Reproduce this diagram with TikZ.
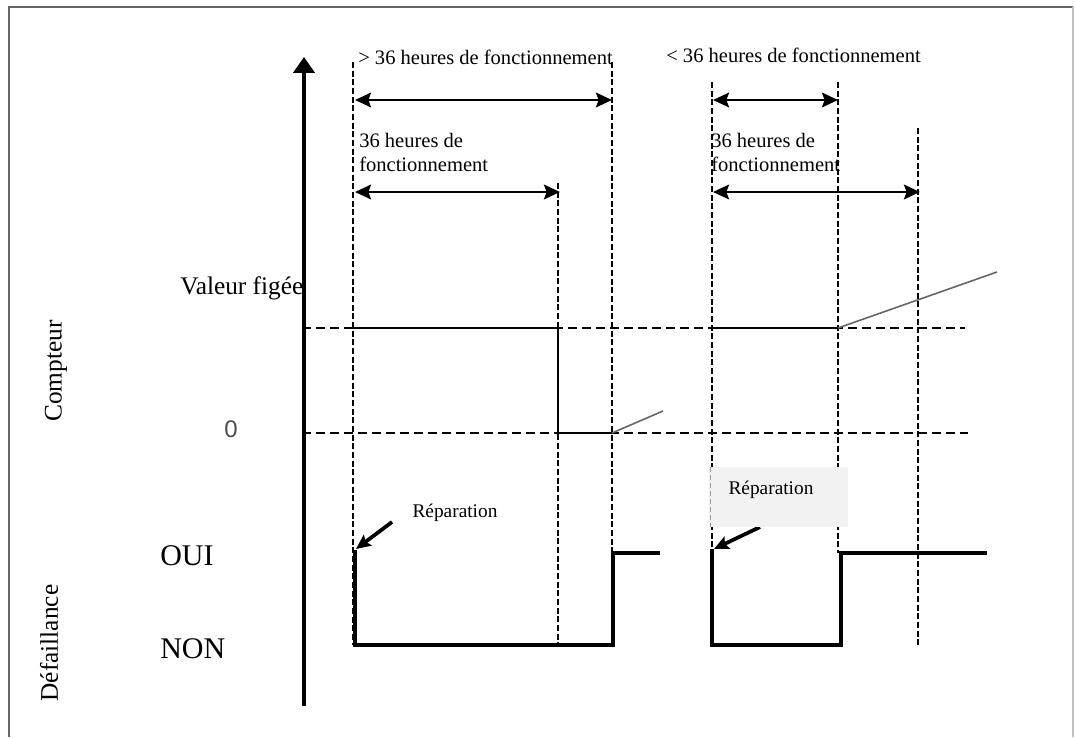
\documentclass[tikz,border=0pt]{standalone}
\usepackage{fontspec}
\setmainfont{Liberation Serif}
\newfontfamily\arialfont{Liberation Sans}
\usetikzlibrary{arrows.meta}
\begin{document}
\begin{tikzpicture}[x=0.75pt,y=-0.75pt,
  vdash/.style={line width=2pt, dash pattern=on 4.5pt off 2pt},
  hdash/.style={line width=2.1pt, dash pattern=on 7pt off 3.5pt},
  sig/.style={line width=3.6pt, line join=miter},
  cnt/.style={line width=1.1pt},
  slope/.style={line width=1.2pt, black!60},
  dimarrow/.style={line width=2pt,{Stealth[length=12pt,width=11pt,inset=2pt]}-{Stealth[length=12pt,width=11pt,inset=2pt]}},
  reparrow/.style={line width=2.8pt,-{Stealth[length=11pt,width=10pt,inset=2pt]}},
  lbl/.style={inner sep=0pt, font=\fontsize{15.4}{18}\selectfont, align=left},
  biglbl/.style={inner sep=0pt, font=\fontsize{22.5}{26}\selectfont},
  sidelbl/.style={inner sep=0pt, font=\fontsize{19}{22}\selectfont},
  replbl/.style={inner sep=0pt, font=\fontsize{14.5}{17}\selectfont},
]
\useasboundingbox (0,0) rectangle (1075,738);
% frame
\draw[black!60, line width=1.5pt] (9,737) -- (9,7) -- (1073,7);
\draw[black!25, line width=0.8pt] (1073,7) -- (1073,737);

% axis
\coordinate (axb) at (304,706);
\coordinate (axt) at (304,57);
\draw[line width=2.6pt,-{Triangle[length=12pt,width=16pt]}] (axb) -- (axt);

% horizontal dashed levels
\coordinate (h1a) at (302,328); \coordinate (h1b) at (965,328);
\coordinate (h2a) at (302,433); \coordinate (h2b) at (968,433);
\draw[hdash] (h1a) -- (h1b);
\draw[hdash] (h2a) -- (h2b);

% vertical dashed lines
\coordinate (v1t) at (353,62);  \coordinate (v1b) at (353,645);
\coordinate (v2t) at (558,183); \coordinate (v2b) at (558,645);
\coordinate (v3t) at (612,62);  \coordinate (v3b) at (612,645);
\coordinate (v4t) at (712,82);  \coordinate (v4b) at (712,645);
\coordinate (v5t) at (838,82);  \coordinate (v5b) at (838,553);
\coordinate (v6t) at (918,128); \coordinate (v6b) at (918,645);
\foreach \v in {1,...,6} \draw[vdash] (v\v t) -- (v\v b);

% counter curves
\coordinate (c1) at (353,328); \coordinate (c2) at (558,328);
\coordinate (c3) at (558,433); \coordinate (c4) at (612,433);
\coordinate (c5) at (663,411);
\draw[cnt] (c1) -- (c2) -- (c3) -- (c4);
\draw[slope] (c4) -- (c5);
\coordinate (d1) at (712,328); \coordinate (d2) at (838,328);
\coordinate (d3) at (997,272);
\draw[cnt] (d1) -- (d2);
\draw[slope] (d2) -- (d3);

% failure signal
\coordinate (s1) at (355,550); \coordinate (s2) at (355,645);
\coordinate (s3) at (613,645); \coordinate (s4) at (613,553);
\coordinate (s5) at (660,553);
\draw[sig] (s1) -- (s2) -- (s3) -- (s4) -- (s5);
\coordinate (u1) at (712,549); \coordinate (u2) at (712,645);
\coordinate (u3) at (841,645); \coordinate (u4) at (841,553);
\coordinate (u5) at (987,553);
\draw[sig] (u1) -- (u2) -- (u3) -- (u4) -- (u5);

% dimension arrows
\coordinate (a1l) at (355,100); \coordinate (a1r) at (612,100);
\coordinate (a2l) at (355,192); \coordinate (a2r) at (560,192);
\coordinate (a3l) at (713,100); \coordinate (a3r) at (838,100);
\coordinate (a4l) at (713,192); \coordinate (a4r) at (920,192);
\draw[dimarrow] (a1l) -- (a1r);
\draw[dimarrow] (a2l) -- (a2r);
\draw[dimarrow] (a3l) -- (a3r);
\draw[dimarrow] (a4l) -- (a4r);

% texts
\node[lbl, anchor=base west] (t1) at (358,65) {> 36 heures de fonctionnement};
\node[lbl, anchor=base west] (t2) at (666,63) {< 36 heures de fonctionnement};
\node[lbl, anchor=north west] (t3) at (359,133) {36 heures de\\fonctionnement};
\node[lbl, anchor=north west] (t4) at (711,133) {36 heures de\\fonctionnement};

\node[sidelbl, anchor=base west] (vf) at (180,294) {Valeur figée};
\node[inner sep=0pt, font=\arialfont\fontsize{18}{20}\selectfont, text=black!70] (zero) at (231,429) {0};
\node[biglbl, anchor=base west] (oui) at (160,565) {OUI};
\node[biglbl, anchor=base west] (non) at (160,658) {NON};
\node[sidelbl, rotate=90] (cpt) at (56,371) {Compteur};
\node[sidelbl, rotate=90] (def) at (49,643) {Défaillance};

% reparation 1
\node[replbl] (rep1) at (455,513) {Réparation};
\coordinate (r1s) at (392,522); \coordinate (r1e) at (356,549);
\draw[reparrow] (r1s) -- (r1e);

% reparation 2
\coordinate (r2s) at (760,527); \coordinate (r2e) at (714,549);
\draw[reparrow] (r2s) -- (r2e);
\fill[black!5] (709,467) rectangle (848,527);
\draw[black!40, line width=0.5pt, dash pattern=on 4pt off 2pt] (710,467) -- (710,527);
\node[replbl] (rep2) at (771,490) {Réparation};
\end{tikzpicture}
\end{document}
